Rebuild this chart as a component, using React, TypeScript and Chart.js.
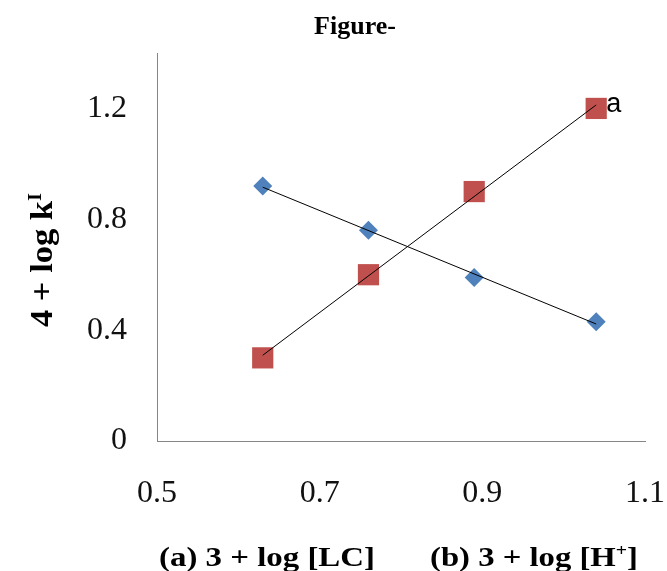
import React, { useEffect, useRef } from 'react';
import { Chart, registerables } from 'chart.js';

Chart.register(...registerables);

// ---- data ----
const xValues = [0.63, 0.76, 0.89, 1.04];
const diamondSeries = [0.92, 0.76, 0.59, 0.43];
const squareSeries = [0.3, 0.6, 0.9, 1.2];
const xTicks = [0.5, 0.7, 0.9, 1.1];
const yTicks = [0, 0.4, 0.8, 1.2];
const xRange = [0.5, 1.1];
const yRange = [0, 1.4];
const chartTitle = 'Figure-';
const pointLabel = 'a';
const xTitleA = '(a) 3 + log [LC]';
const xTitleB = ['(b) 3 + log [H', '+', ']'];
const yTitle = ['4 + log k', 'I'];

const SERIF = '"Liberation Serif", "Times New Roman", serif';
const SANS = '"Liberation Sans", Arial, sans-serif';

function trend(xs: number[], ys: number[]) {
  const n = xs.length;
  const mx = xs.reduce((a, b) => a + b, 0) / n;
  const my = ys.reduce((a, b) => a + b, 0) / n;
  let sxy = 0, sxx = 0;
  for (let i = 0; i < n; i++) {
    sxy += (xs[i] - mx) * (ys[i] - my);
    sxx += (xs[i] - mx) * (xs[i] - mx);
  }
  const b = sxy / sxx;
  const a = my - b * mx;
  const x0 = Math.min(...xs), x1 = Math.max(...xs);
  return [{ x: x0, y: a + b * x0 }, { x: x1, y: a + b * x1 }];
}

type Seg = { text: string; font: string; dy: number };

function drawSegments(ctx: CanvasRenderingContext2D, segs: Seg[], target: number) {
  let natural = 0;
  for (const s of segs) { ctx.font = s.font; natural += ctx.measureText(s.text).width; }
  const sx = target / natural;
  ctx.save();
  ctx.scale(sx, 1);
  let x = 0;
  for (const s of segs) {
    ctx.font = s.font;
    ctx.fillText(s.text, x, s.dy);
    x += ctx.measureText(s.text).width;
  }
  ctx.restore();
}

const textPlugin = {
  id: 'textPlugin',
  afterDraw(chart: any) {
    const ctx: CanvasRenderingContext2D = chart.ctx;
    ctx.save();
    ctx.fillStyle = '#000';
    ctx.textBaseline = 'alphabetic';
    // title
    ctx.textAlign = 'center';
    ctx.font = `bold 26px ${SERIF}`;
    ctx.fillText(chartTitle, 355, 34);
    ctx.textAlign = 'left';
    // x title
    ctx.save();
    ctx.translate(159, 566);
    drawSegments(ctx, [{ text: xTitleA, font: `bold 28px ${SERIF}`, dy: 0 }], 216);
    ctx.restore();
    ctx.save();
    ctx.translate(430, 566);
    drawSegments(ctx, [
      { text: xTitleB[0], font: `bold 28px ${SERIF}`, dy: 0 },
      { text: xTitleB[1], font: `bold 17px ${SERIF}`, dy: -10 },
      { text: xTitleB[2], font: `bold 28px ${SERIF}`, dy: 0 },
    ], 208);
    ctx.restore();
    // y title
    ctx.save();
    ctx.translate(52, 327);
    ctx.rotate(-Math.PI / 2);
    drawSegments(ctx, [
      { text: yTitle[0], font: `bold 32px ${SERIF}`, dy: 0 },
      { text: yTitle[1], font: `bold 19px ${SERIF}`, dy: -11 },
    ], 134);
    ctx.restore();
    // point label
    const xs = chart.scales.x, ys = chart.scales.y;
    const last = squareSeries.length - 1;
    ctx.font = `27px ${SANS}`;
    ctx.fillText(pointLabel, xs.getPixelForValue(xValues[last]) + 10, ys.getPixelForValue(squareSeries[last]) + 4);
    ctx.restore();
  },
};

export default function App() {
  const ref = useRef<HTMLCanvasElement | null>(null);
  useEffect(() => {
    if (!ref.current) return;
    const tickFont = { family: SERIF, size: 32, weight: 'normal' as const };
    const chart = new Chart(ref.current, {
      type: 'scatter',
      data: {
        datasets: [
          {
            label: 'trend a',
            data: trend(xValues, squareSeries),
            showLine: true,
            borderColor: '#000',
            borderWidth: 1,
            pointRadius: 0,
            order: 0,
          },
          {
            label: 'trend b',
            data: trend(xValues, diamondSeries),
            showLine: true,
            borderColor: '#000',
            borderWidth: 1,
            pointRadius: 0,
            order: 0,
          },
          {
            label: 'b',
            data: xValues.map((x, i) => ({ x, y: diamondSeries[i] })),
            pointStyle: 'rectRot',
            pointRadius: 9.5,
            pointBackgroundColor: '#4F81BD',
            pointBorderColor: '#4F81BD',
            pointBorderWidth: 0,
            showLine: false,
            order: 1,
          },
          {
            label: 'a',
            data: xValues.map((x, i) => ({ x, y: squareSeries[i] })),
            pointStyle: 'rect',
            pointRadius: 15,
            pointBackgroundColor: '#C0504D',
            pointBorderColor: '#C0504D',
            pointBorderWidth: 0,
            showLine: false,
            order: 1,
          },
        ],
      },
      options: {
        animation: false,
        responsive: false,
        layout: { padding: { top: 53, right: 22, left: 0, bottom: 0 } },
        plugins: { legend: { display: false }, tooltip: { enabled: false }, title: { display: false } },
        scales: {
          x: {
            type: 'linear',
            min: xRange[0],
            max: xRange[1],
            afterBuildTicks: (s: any) => { s.ticks = xTicks.map((v) => ({ value: v })); },
            afterFit: (s: any) => { s.height = 130; s.paddingLeft = 0; s.paddingRight = 0; },
            grid: { display: false, drawTicks: false },
            border: { display: true, color: '#868686', width: 1 },
            ticks: { font: tickFont, color: '#111', padding: 33, maxRotation: 0, autoSkip: false, callback: (v: any) => `${v}` },
          },
          y: {
            type: 'linear',
            min: yRange[0],
            max: yRange[1],
            afterBuildTicks: (s: any) => { s.ticks = yTicks.map((v) => ({ value: v })); },
            afterFit: (s: any) => { s.width = 157; s.paddingTop = 0; s.paddingBottom = 0; },
            grid: { display: false, drawTicks: false },
            border: { display: true, color: '#868686', width: 1 },
            ticks: { font: tickFont, color: '#111', padding: 30, autoSkip: false, callback: (v: any) => `${v}` },
          },
        },
      },
      plugins: [textPlugin],
    });
    return () => chart.destroy();
  }, []);
  return (
    <div style={{ position: 'absolute', left: 0, top: 0, width: 667, height: 571, background: '#fff' }}>
      <canvas ref={ref} width={667} height={571} style={{ display: 'block' }} />
    </div>
  );
}
